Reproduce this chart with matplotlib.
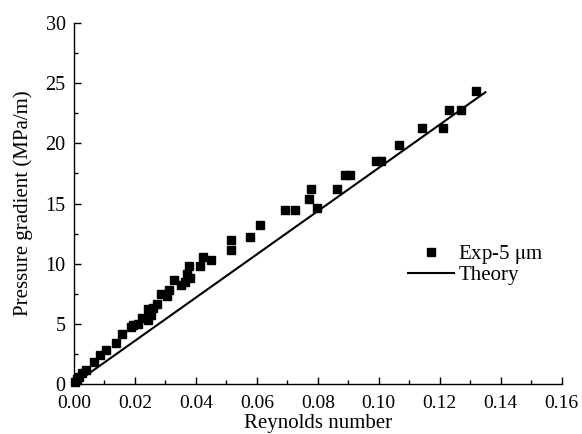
import matplotlib
matplotlib.use("Agg")
import matplotlib.pyplot as plt
from matplotlib.ticker import MultipleLocator

plt.rcParams['font.family'] = ['Liberation Serif', 'DejaVu Serif']
plt.rcParams['mathtext.fontset'] = 'stix'

exp_re = [0.0003, 0.0009, 0.0017, 0.0028, 0.0041, 0.0065, 0.0087, 0.0104, 0.0137, 0.0158,
          0.0188, 0.0193, 0.0209, 0.0225, 0.0242, 0.0253, 0.0242, 0.0258, 0.0274, 0.0285,
          0.0305, 0.0312, 0.0328, 0.0350, 0.0365, 0.0372, 0.0380, 0.0377, 0.0415, 0.0424,
          0.0450, 0.0515, 0.0515, 0.0579, 0.0610, 0.0692, 0.0724, 0.0770, 0.0778, 0.0797,
          0.0863, 0.0890, 0.0906, 0.0990, 0.1008, 0.1066, 0.1141, 0.1210, 0.1230, 0.1269,
          0.1318]
exp_dp = [0.15, 0.4, 0.6, 0.9, 1.2, 1.8, 2.4, 2.85, 3.45, 4.15,
          4.75, 4.9, 5.0, 5.45, 5.3, 5.7, 6.2, 6.35, 6.65, 7.45,
          7.35, 7.8, 8.65, 8.2, 8.45, 9.15, 8.85, 9.8, 9.85, 10.6,
          10.35, 11.1, 12.0, 12.25, 13.2, 14.45, 14.45, 15.35, 16.2, 14.6,
          16.2, 17.35, 17.35, 18.5, 18.5, 19.85, 21.25, 21.25, 22.8, 22.8,
          24.35]
theory_re = [0.0, 0.135]
theory_dp = [0.0, 24.25]

fig = plt.figure(figsize=(5.82, 4.34), dpi=100)
ax = fig.add_axes([0.127, 0.115, 0.838, 0.832])

ax.plot(exp_re, exp_dp, linestyle='none', marker='s', markersize=5.2,
        color='black', clip_on=False, label='Exp-5 $\\mathrm{\\mu}$m')
ax.plot(theory_re, theory_dp, color='black', linewidth=1.5, label='Theory')

ax.set_xlim(0, 0.16)
ax.set_ylim(0, 30)
ax.xaxis.set_major_locator(MultipleLocator(0.02))
ax.xaxis.set_minor_locator(MultipleLocator(0.01))
ax.yaxis.set_major_locator(MultipleLocator(5))
ax.yaxis.set_minor_locator(MultipleLocator(2.5))
ax.xaxis.set_major_formatter(matplotlib.ticker.FormatStrFormatter('%.2f'))

for s in ['top', 'right']:
    ax.spines[s].set_visible(False)
for s in ['left', 'bottom']:
    ax.spines[s].set_linewidth(1.0)

ax.tick_params(which='both', direction='in', labelsize=14, width=1.0)
ax.tick_params(axis='y', labelsize=14.5)
ax.tick_params(which='major', length=5)
ax.tick_params(axis='y', which='major', pad=6)
ax.tick_params(axis='x', which='major', pad=8)
ax.tick_params(which='minor', length=3)

ax.set_xlabel('Reynolds number', fontsize=15, labelpad=1)
ax.set_ylabel('Pressure gradient (MPa/m)', fontsize=15, labelpad=9)

leg = ax.legend(loc='upper left', bbox_to_anchor=(0.664, 0.42), frameon=False,
                fontsize=15, handlelength=2.2, handletextpad=0.2,
                borderpad=0, labelspacing=0.0)

fig.savefig('out.png', dpi=100)
